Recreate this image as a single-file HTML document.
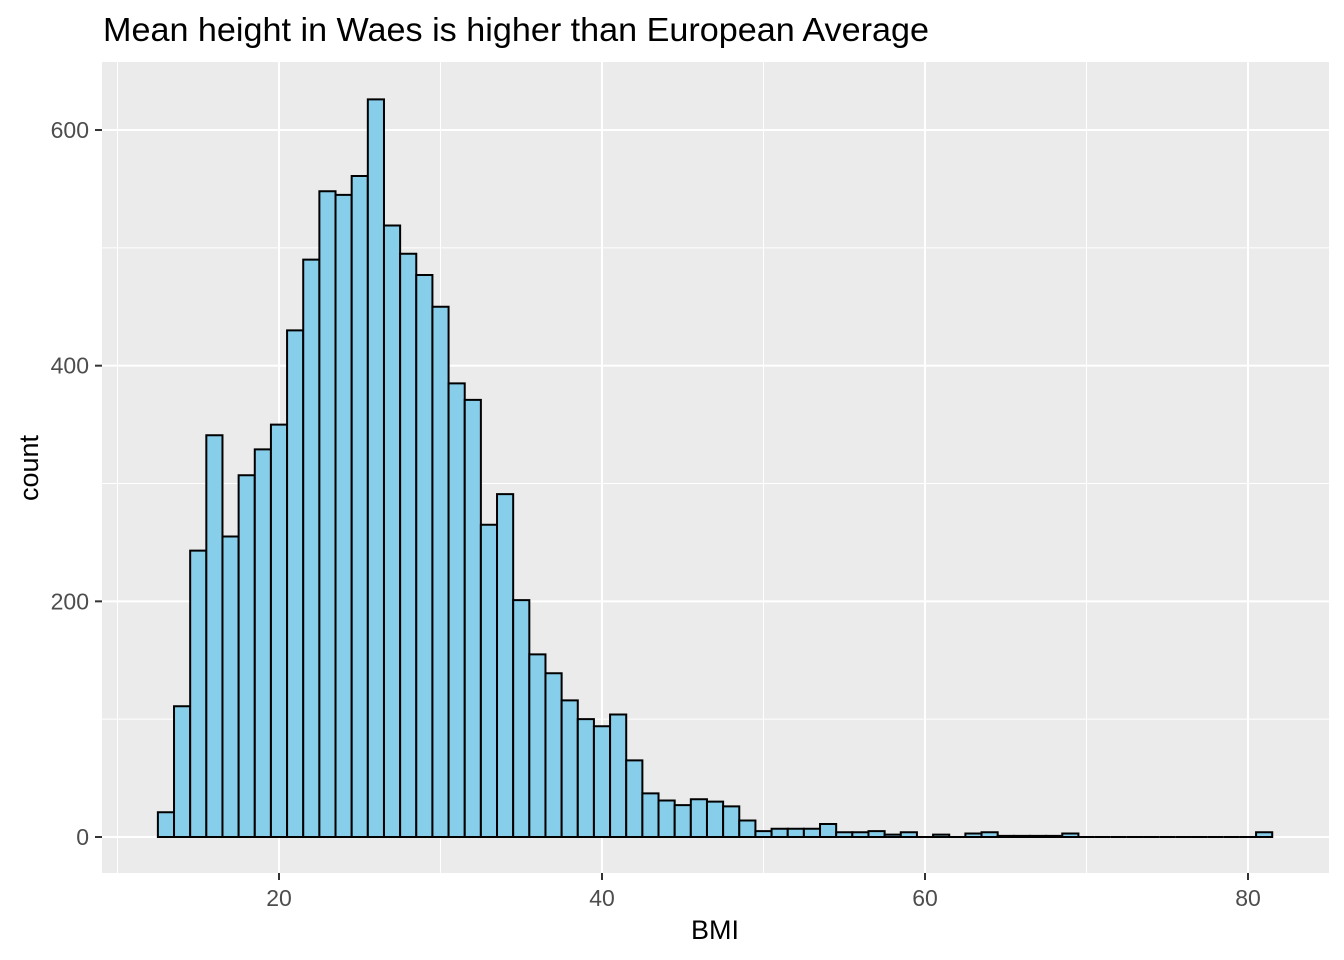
<!DOCTYPE html>
<html><head><meta charset="utf-8"><style>
html,body{margin:0;padding:0;background:#fff;}
svg{display:block;font-family:"Liberation Sans",Arial,sans-serif;}
</style></head><body>
<svg id="chart" width="1344" height="960" viewBox="0 0 1344 960">
<text x="103" y="41" font-size="33" textLength="826" lengthAdjust="spacingAndGlyphs" fill="#000">Mean height in Waes is higher than European Average</text>
<rect x="102" y="62" width="1227" height="811" fill="#ebebeb"/>
<g id="grid"></g>
<g id="bars"></g>
<g id="axes"></g>
<text x="715" y="939" font-size="27" text-anchor="middle" fill="#000">BMI</text>
<text transform="translate(38,468) rotate(-90)" font-size="27" text-anchor="middle" fill="#000">count</text>
</svg>
<script>
const binStart = 12.5;
const binWidth = 1;
const counts = [21,111,243,341,255,307,329,350,430,490,548,545,561,626,519,495,477,450,385,371,265,291,201,155,139,116,100,94,104,65,37,31,27,32,30,26,14,5,7,7,7,11,4,4,5,2,4,0,2,0,3,4,1,1,1,1,3,0,0,0,0,0,0,0,0,0,0,0,4];
const xTicks = [20,40,60,80];
const xMinor = [10,30,50,70];
const yTicks = [0,200,400,600];
const yMinor = [100,300,500];

const NS = "http://www.w3.org/2000/svg";
function sx(v){ return 279 + (v-20)*16.15; }
function sy(v){ return 837 - v*1.1783; }
function mk(tag, attrs, parent){ const e=document.createElementNS(NS,tag); for(const k in attrs) e.setAttribute(k,attrs[k]); parent.appendChild(e); return e; }
const grid=document.getElementById('grid'), bars=document.getElementById('bars'), axes=document.getElementById('axes');

xMinor.forEach(v=>{ const l=mk('line',{x1:sx(v),x2:sx(v),y1:62,y2:873,stroke:'#fff','stroke-width':1},grid);

 });
yMinor.forEach(v=>{ const l=mk('line',{x1:102,x2:1329,y1:sy(v),y2:sy(v),stroke:'#fff','stroke-width':1},grid);

 });
xTicks.forEach(v=>{ const l=mk('line',{x1:sx(v),x2:sx(v),y1:62,y2:873,stroke:'#fff','stroke-width':2},grid);


const t=mk('line',{x1:sx(v),x2:sx(v),y1:873,y2:880,stroke:'#333','stroke-width':2},axes);


const tx=mk('text',{x:sx(v),y:906,'font-size':23,fill:'#4d4d4d','text-anchor':'middle'},axes); tx.textContent=v;

 });
yTicks.forEach(v=>{ const l=mk('line',{x1:102,x2:1329,y1:sy(v),y2:sy(v),stroke:'#fff','stroke-width':2},grid);


const t=mk('line',{x1:95,x2:102,y1:sy(v),y2:sy(v),stroke:'#333','stroke-width':2},axes);


const tx=mk('text',{x:89,y:sy(v)+8,'font-size':23,fill:'#4d4d4d','text-anchor':'end'},axes); tx.textContent=v;

 });
counts.forEach((c,i)=>{ const x0=sx(binStart+i*binWidth), x1=sx(binStart+(i+1)*binWidth), y0=sy(0), y1=sy(c);
const r=mk('path',{d:`M${x0},${y0}L${x0},${y1}L${x1},${y1}L${x1},${y0}Z`,fill:'#87ceeb',stroke:'#000','stroke-width':2},bars);

 });
</script>
</body></html>
